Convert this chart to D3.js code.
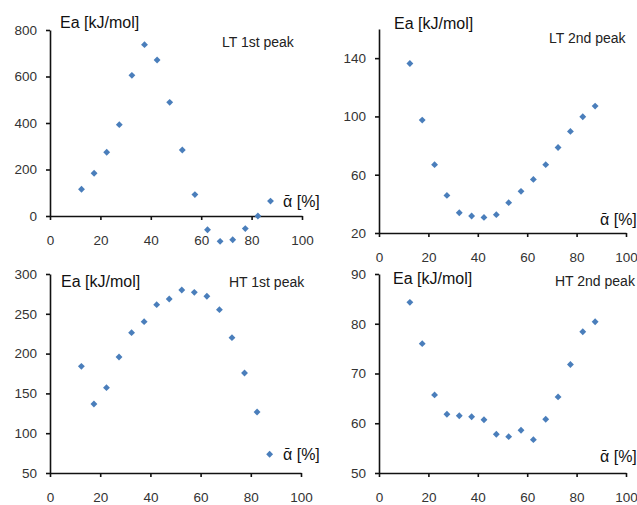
<!DOCTYPE html>
<html>
<head>
<meta charset="utf-8">
<script src="https://cdn.jsdelivr.net/npm/d3@7"></script>
<style>
  body { margin: 0; background: #fff; }
  text { font-family: "Liberation Sans", Arial, sans-serif; }
</style>
</head>
<body>
<div id="chart"></div>
<script>
// chart data
const alpha = [12.5, 17.5, 22.5, 27.5, 32.5, 37.5, 42.5, 47.5, 52.5, 57.5, 62.5, 67.5, 72.5, 77.5, 82.5, 87.5];

const eaLT1 = [115, 184, 274, 393, 605, 737, 671, 489, 284, 92, -59, -109, -102, -54, 0, 64];
const eaLT2 = [136.3, 97.5, 66.9, 45.8, 33.9, 31.7, 30.7, 32.6, 40.8, 48.6, 56.8, 66.9, 78.7, 89.7, 99.8, 107.1];
const eaHT1 = [184, 136.7, 157.2, 195.7, 226.3, 240.1, 261.5, 268.6, 279.9, 277, 272, 255.2, 220, 175.6, 126.6, 73.5];
const eaHT2 = [84.3, 76.0, 65.7, 61.8, 61.5, 61.3, 60.7, 57.8, 57.3, 58.6, 56.7, 60.8, 65.3, 71.8, 78.4, 80.4];

const titles = ["LT 1st peak", "LT 2nd peak", "HT 1st peak", "HT 2nd peak"];
const yTicksLT1 = [0, 200, 400, 600, 800];
const yTicksLT2 = [20, 60, 100, 140];
const yTicksHT1 = [50, 100, 150, 200, 250, 300];
const yTicksHT2 = [50, 60, 70, 80, 90];
const xTicks = [0, 20, 40, 60, 80, 100];

const yLabel = "Ea [kJ/mol]";
const xLabel = "\u1FB1 [%]";

const width = 637, height = 505;
const markColor = "#4a7ebb";

// panel boxes (pixel layout of each small chart)
const panels = [
  {values: eaLT1, ticks: yTicksLT1, domain: [0, 800],  title: titles[0],
   left: 50,  right: 302, top: 30,  bottom: 216, titleX: 222, titleY: 47,
   xLabX: 283, xLabY: 207, yLabX: 60,  yLabY: 28},
  {values: eaLT2, ticks: yTicksLT2, domain: [20, 160], title: titles[1],
   left: 379, right: 626, top: 29,  bottom: 233, titleX: 549, titleY: 43,
   xLabX: 600, xLabY: 225, yLabX: 394, yLabY: 29},
  {values: eaHT1, ticks: yTicksHT1, domain: [50, 300], title: titles[2],
   left: 50,  right: 301, top: 274, bottom: 473, titleX: 229, titleY: 287,
   xLabX: 283, xLabY: 460, yLabX: 61,  yLabY: 287},
  {values: eaHT2, ticks: yTicksHT2, domain: [50, 90],  title: titles[3],
   left: 379, right: 626, top: 274, bottom: 473, titleX: 555, titleY: 286,
   xLabX: 600, xLabY: 462, yLabX: 393, yLabY: 284}
];

const svg = d3.select("#chart")
  .append("svg")
    .attr("width", width)
    .attr("height", height);

panels.forEach(function(p) {
  const xScale = d3.scaleLinear().domain([0, 100]).range([p.left, p.right]);
  const yScale = d3.scaleLinear().domain(p.domain).range([p.bottom, p.top]);

  const g = svg.append("g");

  // y axis
  const yAxis = g.append("g")
    .attr("transform", "translate(" + p.left + ",0)")
    .call(d3.axisLeft(yScale).tickValues(p.ticks).tickSizeInner(4).tickSizeOuter(0).tickPadding(9));

  // x axis
  const xAxis = g.append("g")
    .attr("transform", "translate(0," + p.bottom + ")")
    .call(d3.axisBottom(xScale).tickValues(xTicks).tickSizeInner(4).tickSizeOuter(0).tickPadding(15));

  [yAxis, xAxis].forEach(function(a) {
    a.select(".domain").attr("stroke", "#111").attr("stroke-width", 1.6);
    a.selectAll(".tick line").attr("stroke", "#111").attr("stroke-width", 1.6);
    a.selectAll(".tick text")
      .attr("fill", "#333")
      .style("font-size", "13.5px")
      .style("font-family", "'Liberation Sans', Arial, sans-serif");
  });

  // points
  g.selectAll("path.pt")
    .data(alpha.map(function(a, i) { return {a: a, v: p.values[i]}; }))
    .enter()
    .append("path")
      .attr("class", "pt")
      .attr("d", d3.symbol().type(d3.symbolDiamond2).size(30))
      .attr("transform", function(d) { return "translate(" + xScale(d.a) + "," + yScale(d.v) + ")"; })
      .attr("fill", markColor);

  // labels
  g.append("text")
    .attr("x", p.yLabX).attr("y", p.yLabY)
    .style("font-size", "16px").attr("fill", "#111")
    .text(yLabel);

  g.append("text")
    .attr("x", p.titleX).attr("y", p.titleY)
    .style("font-size", "14px").attr("fill", "#222")
    .text(p.title);

  g.append("text")
    .attr("x", p.xLabX).attr("y", p.xLabY)
    .style("font-size", "16px").attr("fill", "#111")
    .text(xLabel);
});
</script>
</body>
</html>
